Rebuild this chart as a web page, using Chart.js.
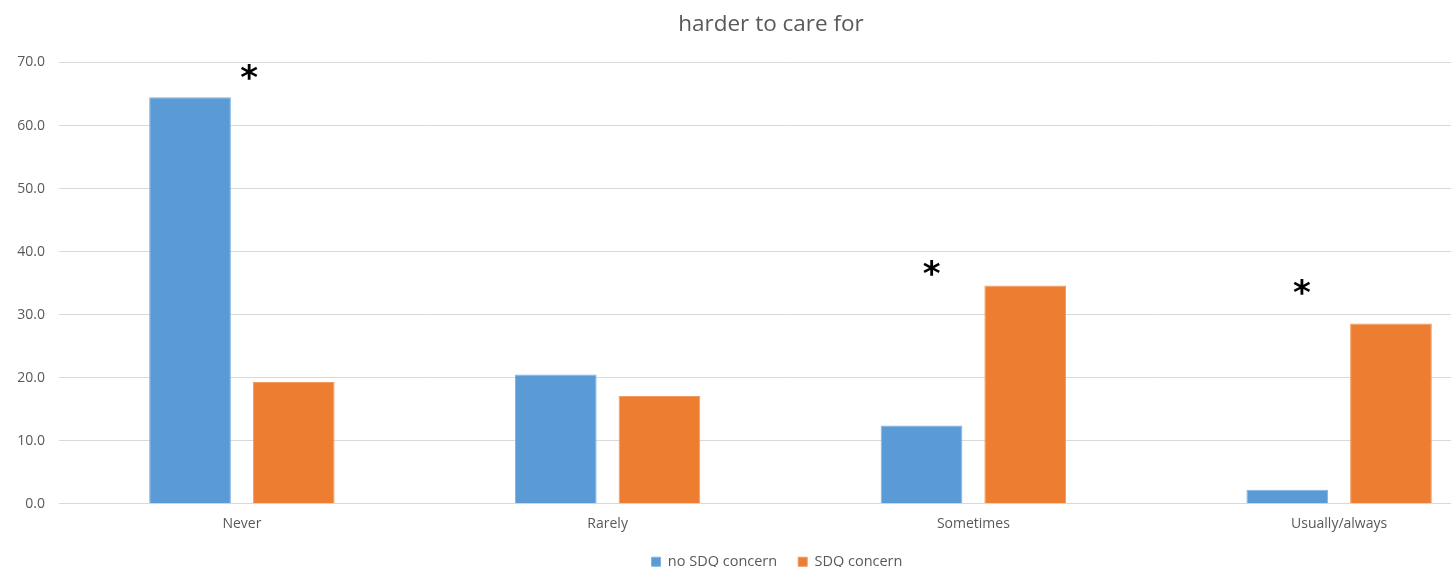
<!DOCTYPE html>
<html>
<head>
<meta charset="utf-8">
<script src="https://cdn.jsdelivr.net/npm/chart.js@4.4.1/dist/chart.umd.min.js"></script>
<style>
html,body{margin:0;padding:0;background:#fff;overflow:hidden;}
#wrap{position:absolute;left:0;top:0;width:1545px;height:567px;}
</style>
</head>
<body>
<div id="wrap"><canvas id="c" width="1545" height="567"></canvas></div>
<script>
const categories = ['Never', 'Rarely', 'Sometimes', 'Usually/always'];
const noConcern = [64.5, 20.5, 12.4, 2.2];
const concern = [19.3, 17.1, 34.6, 28.6];
const seriesNames = ['no SDQ concern', 'SDQ concern'];
const yTicks = [0, 10, 20, 30, 40, 50, 60, 70];
// significance markers: position along category axis (index, fractional) and value height
const starPositions = [0.02, 1.886, 2.898];
const starValues = [68.5, 37.4, 34.3];

const FONT = 'Open Sans';
const GRAY = '#595959';
const LEGEND_PAD = 21;

const starPlugin = {
  id: 'stars',
  afterDatasetsDraw(chart) {
    const {ctx, scales: {x, y}} = chart;
    ctx.save();
    ctx.fillStyle = '#000';
    ctx.font = 'bold 34px "DejaVu Sans"';
    ctx.textAlign = 'center';
    ctx.textBaseline = 'middle';
    starPositions.forEach((p, i) => {
      ctx.fillText('*', x.getPixelForValue(p), y.getPixelForValue(starValues[i]) + 8);
    });
    ctx.restore();
  }
};

const nudgePlugin = {
  id: 'nudge',
  beforeLayout(chart) {
    const l = chart.legend;
    if (l && !l._patched) {
      const f = l.fit.bind(l);
      l.fit = function () { f(); this.height -= (LEGEND_PAD - 6); };
      l._patched = true;
    }
  },
  afterLayout(chart) {
    const t = chart.titleBlock;
    if (t) { t.left += 10; t.right += 10; }
    const l = chart.legend;
    if (l) {
      l.left += 16; l.right += 16;
      l.top -= 3;
      l.bottom = l.top + 80;
      l.height = 80;
    }
  }
};

new Chart(document.getElementById('c'), {
  type: 'bar',
  data: {
    labels: categories,
    datasets: [
      {label: seriesNames[0], data: noConcern, backgroundColor: '#5B9BD5', borderColor: '#7fb2e0', borderWidth: 1, categoryPercentage: 0.567, barPercentage: 0.788},
      {label: seriesNames[1], data: concern, backgroundColor: '#ED7D31', borderColor: '#f29a5e', borderWidth: 1, categoryPercentage: 0.567, barPercentage: 0.788}
    ]
  },
  options: {
    responsive: false,
    animation: false,
    layout: {padding: {left: 0, right: 23, top: 0, bottom: 0}},
    plugins: {
      title: {display: true, text: 'harder to care for', color: GRAY, font: {family: FONT, size: 22.5, weight: 'normal'}, padding: {top: 11, bottom: 24.5}},
      legend: {position: 'bottom', labels: {color: GRAY, font: {family: FONT, size: 14.5}, boxWidth: 9, boxHeight: 9, padding: LEGEND_PAD}},
      tooltip: {enabled: false}
    },
    scales: {
      x: {
        grid: {display: false},
        border: {display: false},
        ticks: {color: GRAY, font: {family: FONT, size: 14}, padding: 4}
      },
      y: {
        min: 0, max: 70,
        afterBuildTicks(s) { s.ticks = yTicks.map(v => ({value: v})); },
        afterFit(s) { s.width = 59; },
        grid: {color: '#d9d9d9', lineWidth: 1, drawTicks: false},
        border: {display: false},
        ticks: {color: GRAY, font: {family: FONT, size: 14}, padding: 14, callback: v => Number(v).toFixed(1)}
      }
    }
  },
  plugins: [starPlugin, nudgePlugin]
});
</script>
</body>
</html>
